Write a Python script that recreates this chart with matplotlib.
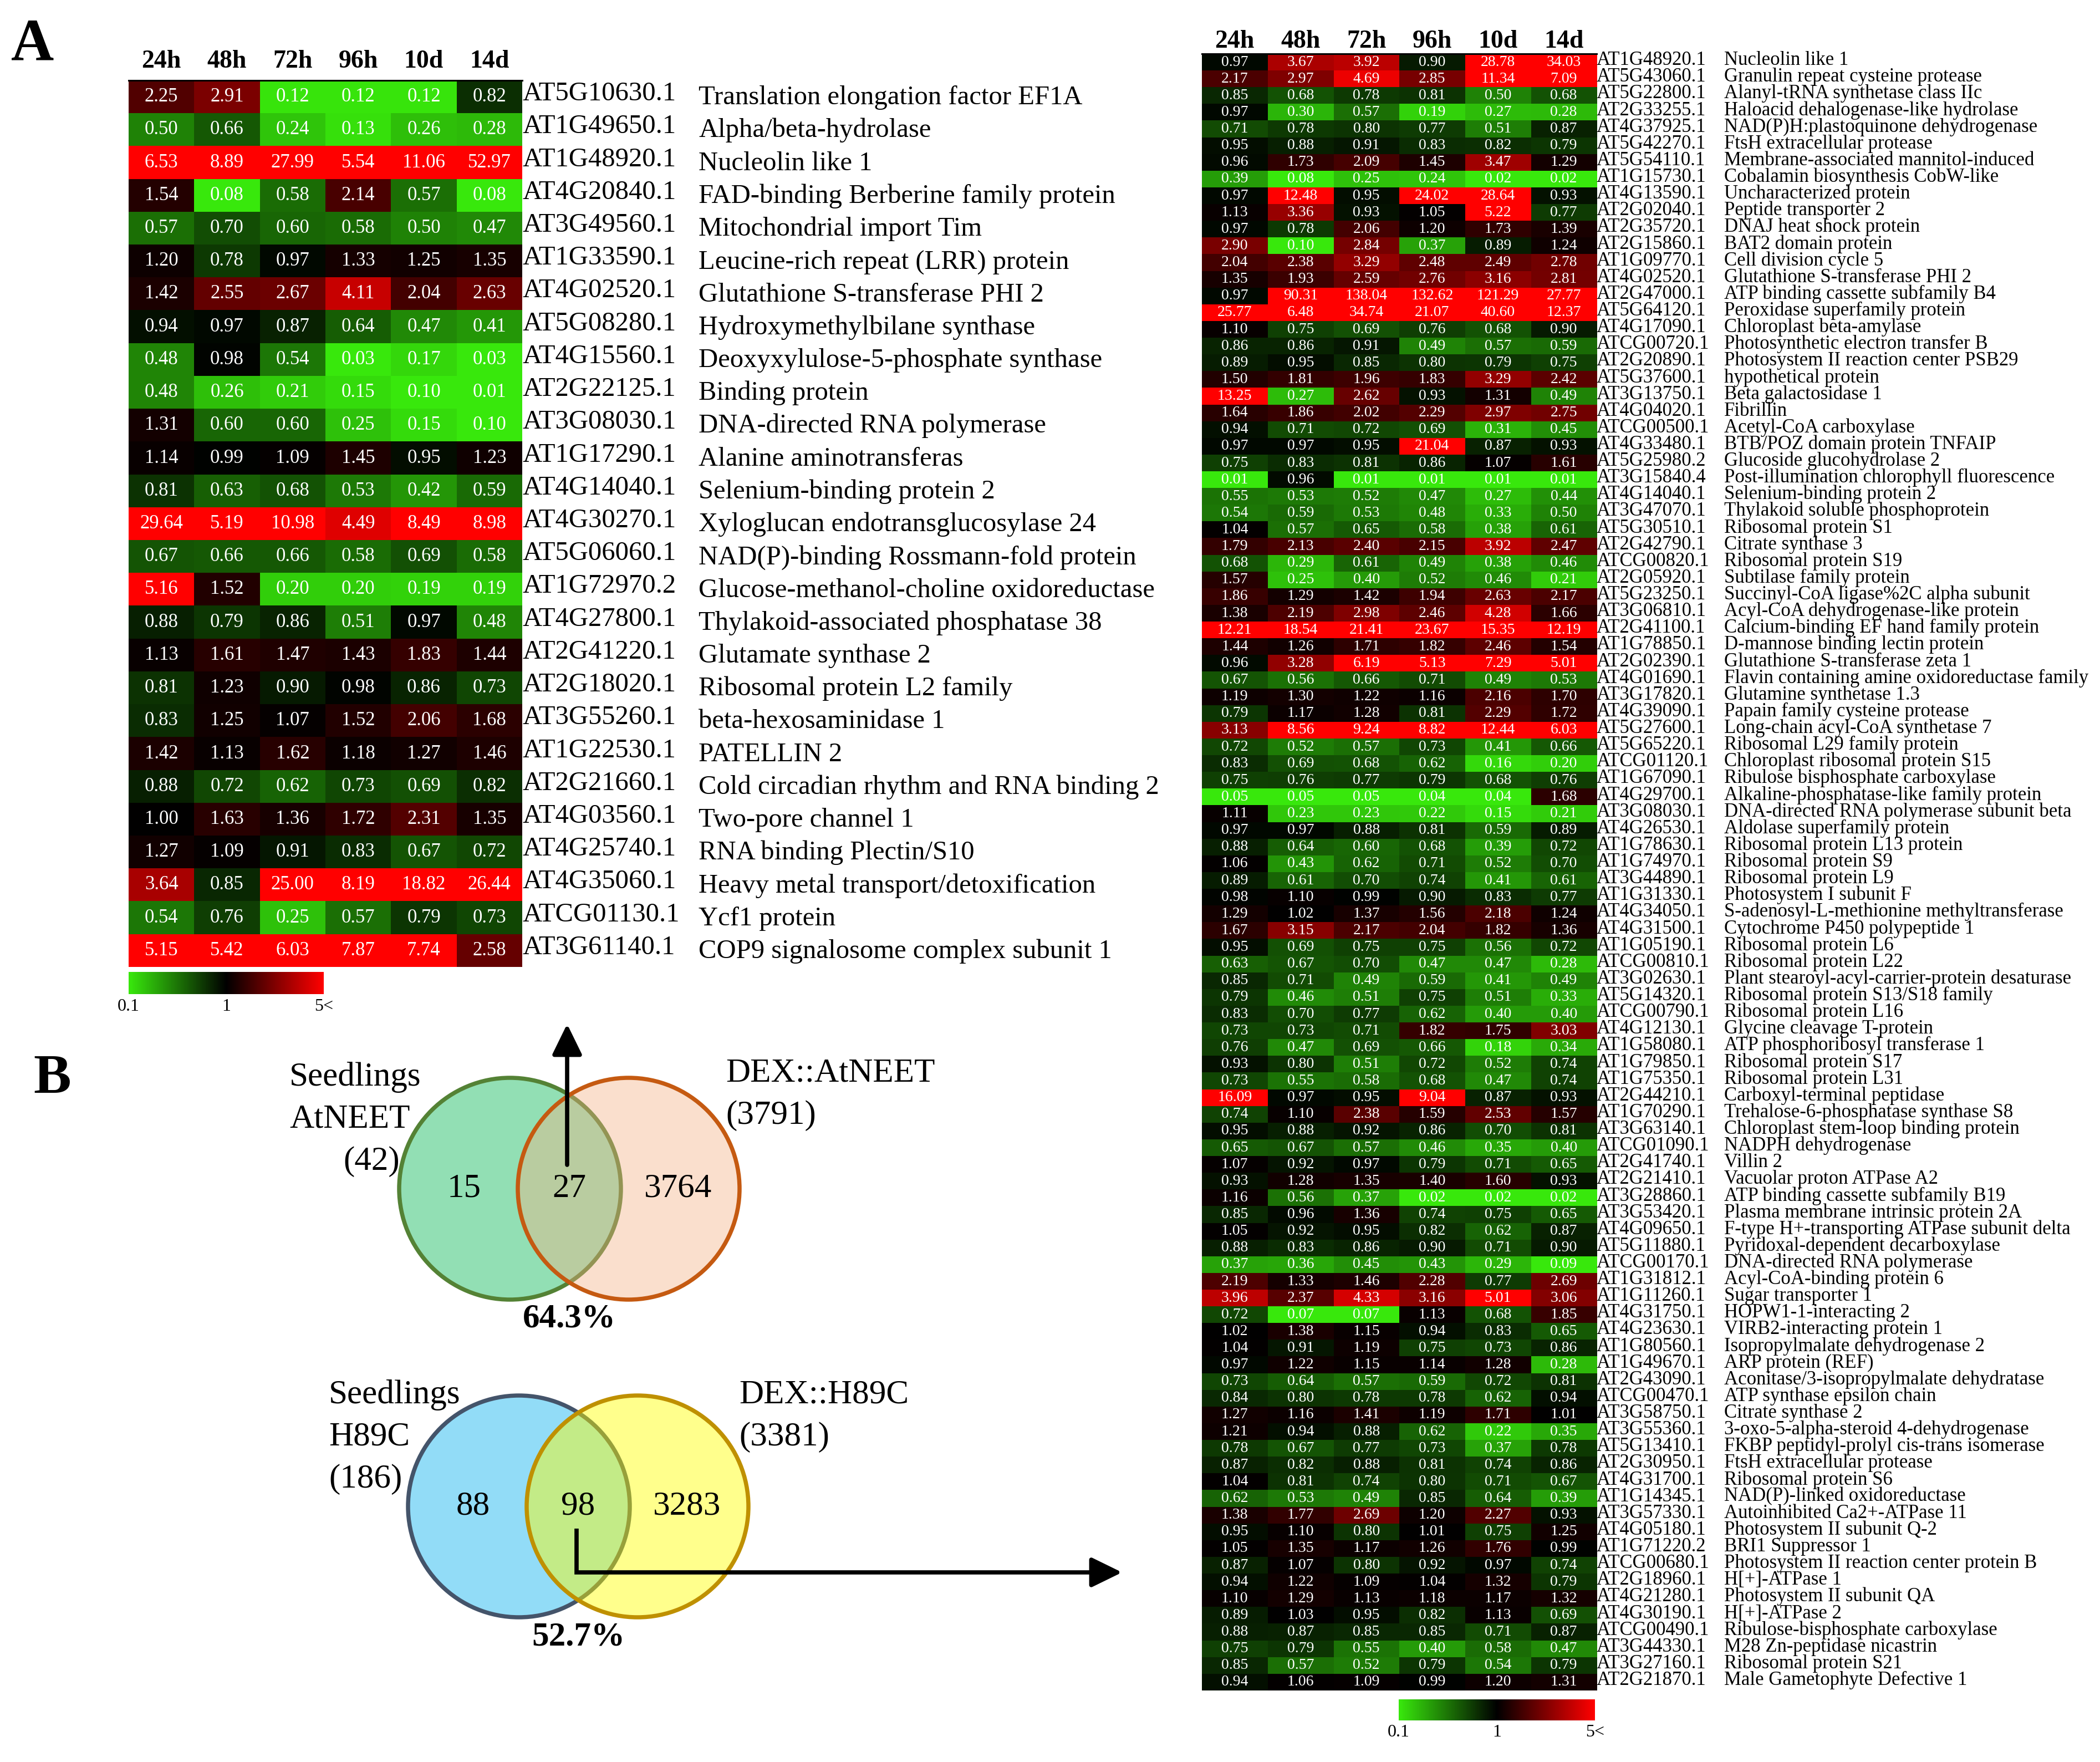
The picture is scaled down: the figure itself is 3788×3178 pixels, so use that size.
"""
Heatmaps of overlapping transcripts (A) and Venn overlaps (B).
"""

import numpy as np
import matplotlib
matplotlib.use("Agg")
import matplotlib.pyplot as plt
from matplotlib.colors import LinearSegmentedColormap, TwoSlopeNorm
from matplotlib.cm import ScalarMappable
from matplotlib.patches import Circle
from matplotlib.transforms import blended_transform_factory

plt.rcParams.update({
    "font.family": "serif",
    "font.serif": ["Liberation Serif", "DejaVu Serif"],
})

# ── Data ─────────────────────────────────────────────────────────────────────
COLUMNS = ["24h", "48h", "72h", "96h", "10d", "14d"]

LEFT_IDS = [
    "AT5G10630.1", "AT1G49650.1", "AT1G48920.1", "AT4G20840.1", "AT3G49560.1",
    "AT1G33590.1", "AT4G02520.1", "AT5G08280.1", "AT4G15560.1", "AT2G22125.1",
    "AT3G08030.1", "AT1G17290.1", "AT4G14040.1", "AT4G30270.1", "AT5G06060.1",
    "AT1G72970.2", "AT4G27800.1", "AT2G41220.1", "AT2G18020.1", "AT3G55260.1",
    "AT1G22530.1", "AT2G21660.1", "AT4G03560.1", "AT4G25740.1", "AT4G35060.1",
    "ATCG01130.1", "AT3G61140.1",
]
LEFT_DESC = [
    "Translation elongation factor EF1A", "Alpha/beta-hydrolase", "Nucleolin like 1",
    "FAD-binding Berberine family protein", "Mitochondrial import Tim",
    "Leucine-rich repeat (LRR) protein", "Glutathione S-transferase PHI 2",
    "Hydroxymethylbilane synthase", "Deoxyxylulose-5-phosphate synthase",
    "Binding protein", "DNA-directed RNA polymerase", "Alanine aminotransferas",
    "Selenium-binding protein 2", "Xyloglucan endotransglucosylase 24",
    "NAD(P)-binding Rossmann-fold protein", "Glucose-methanol-choline oxidoreductase",
    "Thylakoid-associated phosphatase 38", "Glutamate synthase 2",
    "Ribosomal protein L2 family", "beta-hexosaminidase 1", "PATELLIN 2",
    "Cold circadian rhythm and RNA binding 2", "Two-pore channel 1",
    "RNA binding Plectin/S10", "Heavy metal transport/detoxification",
    "Ycf1 protein", "COP9 signalosome complex subunit 1",
]
LEFT_VALUES = [
    [2.25, 2.91, 0.12, 0.12, 0.12, 0.82],
    [0.50, 0.66, 0.24, 0.13, 0.26, 0.28],
    [6.53, 8.89, 27.99, 5.54, 11.06, 52.97],
    [1.54, 0.08, 0.58, 2.14, 0.57, 0.08],
    [0.57, 0.70, 0.60, 0.58, 0.50, 0.47],
    [1.20, 0.78, 0.97, 1.33, 1.25, 1.35],
    [1.42, 2.55, 2.67, 4.11, 2.04, 2.63],
    [0.94, 0.97, 0.87, 0.64, 0.47, 0.41],
    [0.48, 0.98, 0.54, 0.03, 0.17, 0.03],
    [0.48, 0.26, 0.21, 0.15, 0.10, 0.01],
    [1.31, 0.60, 0.60, 0.25, 0.15, 0.10],
    [1.14, 0.99, 1.09, 1.45, 0.95, 1.23],
    [0.81, 0.63, 0.68, 0.53, 0.42, 0.59],
    [29.64, 5.19, 10.98, 4.49, 8.49, 8.98],
    [0.67, 0.66, 0.66, 0.58, 0.69, 0.58],
    [5.16, 1.52, 0.20, 0.20, 0.19, 0.19],
    [0.88, 0.79, 0.86, 0.51, 0.97, 0.48],
    [1.13, 1.61, 1.47, 1.43, 1.83, 1.44],
    [0.81, 1.23, 0.90, 0.98, 0.86, 0.73],
    [0.83, 1.25, 1.07, 1.52, 2.06, 1.68],
    [1.42, 1.13, 1.62, 1.18, 1.27, 1.46],
    [0.88, 0.72, 0.62, 0.73, 0.69, 0.82],
    [1.00, 1.63, 1.36, 1.72, 2.31, 1.35],
    [1.27, 1.09, 0.91, 0.83, 0.67, 0.72],
    [3.64, 0.85, 25.00, 8.19, 18.82, 26.44],
    [0.54, 0.76, 0.25, 0.57, 0.79, 0.73],
    [5.15, 5.42, 6.03, 7.87, 7.74, 2.58],
]

RIGHT_IDS = [
    "AT1G48920.1", "AT5G43060.1", "AT5G22800.1", "AT2G33255.1", "AT4G37925.1",
    "AT5G42270.1", "AT5G54110.1", "AT1G15730.1", "AT4G13590.1", "AT2G02040.1",
    "AT2G35720.1", "AT2G15860.1", "AT1G09770.1", "AT4G02520.1", "AT2G47000.1",
    "AT5G64120.1", "AT4G17090.1", "ATCG00720.1", "AT2G20890.1", "AT5G37600.1",
    "AT3G13750.1", "AT4G04020.1", "ATCG00500.1", "AT4G33480.1", "AT5G25980.2",
    "AT3G15840.4", "AT4G14040.1", "AT3G47070.1", "AT5G30510.1", "AT2G42790.1",
    "ATCG00820.1", "AT2G05920.1", "AT5G23250.1", "AT3G06810.1", "AT2G41100.1",
    "AT1G78850.1", "AT2G02390.1", "AT4G01690.1", "AT3G17820.1", "AT4G39090.1",
    "AT5G27600.1", "AT5G65220.1", "ATCG01120.1", "AT1G67090.1", "AT4G29700.1",
    "AT3G08030.1", "AT4G26530.1", "AT1G78630.1", "AT1G74970.1", "AT3G44890.1",
    "AT1G31330.1", "AT4G34050.1", "AT4G31500.1", "AT1G05190.1", "ATCG00810.1",
    "AT3G02630.1", "AT5G14320.1", "ATCG00790.1", "AT4G12130.1", "AT1G58080.1",
    "AT1G79850.1", "AT1G75350.1", "AT2G44210.1", "AT1G70290.1", "AT3G63140.1",
    "ATCG01090.1", "AT2G41740.1", "AT2G21410.1", "AT3G28860.1", "AT3G53420.1",
    "AT4G09650.1", "AT5G11880.1", "ATCG00170.1", "AT1G31812.1", "AT1G11260.1",
    "AT4G31750.1", "AT4G23630.1", "AT1G80560.1", "AT1G49670.1", "AT2G43090.1",
    "ATCG00470.1", "AT3G58750.1", "AT3G55360.1", "AT5G13410.1", "AT2G30950.1",
    "AT4G31700.1", "AT1G14345.1", "AT3G57330.1", "AT4G05180.1", "AT1G71220.2",
    "ATCG00680.1", "AT2G18960.1", "AT4G21280.1", "AT4G30190.1", "ATCG00490.1",
    "AT3G44330.1", "AT3G27160.1", "AT2G21870.1",
]
RIGHT_DESC = [
    "Nucleolin like 1", "Granulin repeat cysteine protease",
    "Alanyl-tRNA synthetase class IIc", "Haloacid dehalogenase-like hydrolase",
    "NAD(P)H:plastoquinone dehydrogenase", "FtsH extracellular protease",
    "Membrane-associated mannitol-induced", "Cobalamin biosynthesis CobW-like",
    "Uncharacterized protein", "Peptide transporter 2", "DNAJ heat shock protein",
    "BAT2 domain protein", "Cell division cycle 5", "Glutathione S-transferase PHI 2",
    "ATP binding cassette subfamily B4", "Peroxidase superfamily protein",
    "Chloroplast beta-amylase", "Photosynthetic electron transfer B",
    "Photosystem II reaction center PSB29", "hypothetical protein",
    "Beta galactosidase 1", "Fibrillin", "Acetyl-CoA carboxylase",
    "BTB/POZ domain protein TNFAIP", "Glucoside glucohydrolase 2",
    "Post-illumination chlorophyll fluorescence", "Selenium-binding protein 2",
    "Thylakoid soluble phosphoprotein", "Ribosomal protein S1", "Citrate synthase 3",
    "Ribosomal protein S19", "Subtilase family protein",
    "Succinyl-CoA ligase%2C alpha subunit", "Acyl-CoA dehydrogenase-like protein",
    "Calcium-binding EF hand family protein", "D-mannose binding lectin protein",
    "Glutathione S-transferase zeta 1", "Flavin containing amine oxidoreductase family",
    "Glutamine synthetase 1.3", "Papain family cysteine protease",
    "Long-chain acyl-CoA synthetase 7", "Ribosomal L29 family protein",
    "Chloroplast ribosomal protein S15", "Ribulose bisphosphate carboxylase",
    "Alkaline-phosphatase-like family protein", "DNA-directed RNA polymerase subunit beta",
    "Aldolase superfamily protein", "Ribosomal protein L13 protein",
    "Ribosomal protein S9", "Ribosomal protein L9", "Photosystem I subunit F",
    "S-adenosyl-L-methionine methyltransferase", "Cytochrome P450 polypeptide 1",
    "Ribosomal protein L6", "Ribosomal protein L22",
    "Plant stearoyl-acyl-carrier-protein desaturase", "Ribosomal protein S13/S18 family",
    "Ribosomal protein L16", "Glycine cleavage T-protein",
    "ATP phosphoribosyl transferase 1", "Ribosomal protein S17", "Ribosomal protein L31",
    "Carboxyl-terminal peptidase", "Trehalose-6-phosphatase synthase S8",
    "Chloroplast stem-loop binding protein", "NADPH dehydrogenase", "Villin 2",
    "Vacuolar proton ATPase A2", "ATP binding cassette subfamily B19",
    "Plasma membrane intrinsic protein 2A", "F-type H+-transporting ATPase subunit delta",
    "Pyridoxal-dependent decarboxylase", "DNA-directed RNA polymerase",
    "Acyl-CoA-binding protein 6", "Sugar transporter 1", "HOPW1-1-interacting 2",
    "VIRB2-interacting protein 1", "Isopropylmalate dehydrogenase 2", "ARP protein (REF)",
    "Aconitase/3-isopropylmalate dehydratase", "ATP synthase epsilon chain",
    "Citrate synthase 2", "3-oxo-5-alpha-steroid 4-dehydrogenase",
    "FKBP peptidyl-prolyl cis-trans isomerase", "FtsH extracellular protease",
    "Ribosomal protein S6", "NAD(P)-linked oxidoreductase", "Autoinhibited Ca2+-ATPase 11",
    "Photosystem II subunit Q-2", "BRI1 Suppressor 1",
    "Photosystem II reaction center protein B", "H[+]-ATPase 1",
    "Photosystem II subunit QA", "H[+]-ATPase 2", "Ribulose-bisphosphate carboxylase",
    "M28 Zn-peptidase nicastrin", "Ribosomal protein S21", "Male Gametophyte Defective 1",
]
RIGHT_VALUES = [
    [0.97, 3.67, 3.92, 0.90, 28.78, 34.03],
    [2.17, 2.97, 4.69, 2.85, 11.34, 7.09],
    [0.85, 0.68, 0.78, 0.81, 0.50, 0.68],
    [0.97, 0.30, 0.57, 0.19, 0.27, 0.28],
    [0.71, 0.78, 0.80, 0.77, 0.51, 0.87],
    [0.95, 0.88, 0.91, 0.83, 0.82, 0.79],
    [0.96, 1.73, 2.09, 1.45, 3.47, 1.29],
    [0.39, 0.08, 0.25, 0.24, 0.02, 0.02],
    [0.97, 12.48, 0.95, 24.02, 28.64, 0.93],
    [1.13, 3.36, 0.93, 1.05, 5.22, 0.77],
    [0.97, 0.78, 2.06, 1.20, 1.73, 1.39],
    [2.90, 0.10, 2.84, 0.37, 0.89, 1.24],
    [2.04, 2.38, 3.29, 2.48, 2.49, 2.78],
    [1.35, 1.93, 2.59, 2.76, 3.16, 2.81],
    [0.97, 90.31, 138.04, 132.62, 121.29, 27.77],
    [25.77, 6.48, 34.74, 21.07, 40.60, 12.37],
    [1.10, 0.75, 0.69, 0.76, 0.68, 0.90],
    [0.86, 0.86, 0.91, 0.49, 0.57, 0.59],
    [0.89, 0.95, 0.85, 0.80, 0.79, 0.75],
    [1.50, 1.81, 1.96, 1.83, 3.29, 2.42],
    [13.25, 0.27, 2.62, 0.93, 1.31, 0.49],
    [1.64, 1.86, 2.02, 2.29, 2.97, 2.75],
    [0.94, 0.71, 0.72, 0.69, 0.31, 0.45],
    [0.97, 0.97, 0.95, 21.04, 0.87, 0.93],
    [0.75, 0.83, 0.81, 0.86, 1.07, 1.61],
    [0.01, 0.96, 0.01, 0.01, 0.01, 0.01],
    [0.55, 0.53, 0.52, 0.47, 0.27, 0.44],
    [0.54, 0.59, 0.53, 0.48, 0.33, 0.50],
    [1.04, 0.57, 0.65, 0.58, 0.38, 0.61],
    [1.79, 2.13, 2.40, 2.15, 3.92, 2.47],
    [0.68, 0.29, 0.61, 0.49, 0.38, 0.46],
    [1.57, 0.25, 0.40, 0.52, 0.46, 0.21],
    [1.86, 1.29, 1.42, 1.94, 2.63, 2.17],
    [1.38, 2.19, 2.98, 2.46, 4.28, 1.66],
    [12.21, 18.54, 21.41, 23.67, 15.35, 12.19],
    [1.44, 1.26, 1.71, 1.82, 2.46, 1.54],
    [0.96, 3.28, 6.19, 5.13, 7.29, 5.01],
    [0.67, 0.56, 0.66, 0.71, 0.49, 0.53],
    [1.19, 1.30, 1.22, 1.16, 2.16, 1.70],
    [0.79, 1.17, 1.28, 0.81, 2.29, 1.72],
    [3.13, 8.56, 9.24, 8.82, 12.44, 6.03],
    [0.72, 0.52, 0.57, 0.73, 0.41, 0.66],
    [0.83, 0.69, 0.68, 0.62, 0.16, 0.20],
    [0.75, 0.76, 0.77, 0.79, 0.68, 0.76],
    [0.05, 0.05, 0.05, 0.04, 0.04, 1.68],
    [1.11, 0.23, 0.23, 0.22, 0.15, 0.21],
    [0.97, 0.97, 0.88, 0.81, 0.59, 0.89],
    [0.88, 0.64, 0.60, 0.68, 0.39, 0.72],
    [1.06, 0.43, 0.62, 0.71, 0.52, 0.70],
    [0.89, 0.61, 0.70, 0.74, 0.41, 0.61],
    [0.98, 1.10, 0.99, 0.90, 0.83, 0.77],
    [1.29, 1.02, 1.37, 1.56, 2.18, 1.24],
    [1.67, 3.15, 2.17, 2.04, 1.82, 1.36],
    [0.95, 0.69, 0.75, 0.75, 0.56, 0.72],
    [0.63, 0.67, 0.70, 0.47, 0.47, 0.28],
    [0.85, 0.71, 0.49, 0.59, 0.41, 0.49],
    [0.79, 0.46, 0.51, 0.75, 0.51, 0.33],
    [0.83, 0.70, 0.77, 0.62, 0.40, 0.40],
    [0.73, 0.73, 0.71, 1.82, 1.75, 3.03],
    [0.76, 0.47, 0.69, 0.66, 0.18, 0.34],
    [0.93, 0.80, 0.51, 0.72, 0.52, 0.74],
    [0.73, 0.55, 0.58, 0.68, 0.47, 0.74],
    [16.09, 0.97, 0.95, 9.04, 0.87, 0.93],
    [0.74, 1.10, 2.38, 1.59, 2.53, 1.57],
    [0.95, 0.88, 0.92, 0.86, 0.70, 0.81],
    [0.65, 0.67, 0.57, 0.46, 0.35, 0.40],
    [1.07, 0.92, 0.97, 0.79, 0.71, 0.65],
    [0.93, 1.28, 1.35, 1.40, 1.60, 0.93],
    [1.16, 0.56, 0.37, 0.02, 0.02, 0.02],
    [0.85, 0.96, 1.36, 0.74, 0.75, 0.65],
    [1.05, 0.92, 0.95, 0.82, 0.62, 0.87],
    [0.88, 0.83, 0.86, 0.90, 0.71, 0.90],
    [0.37, 0.36, 0.45, 0.43, 0.29, 0.09],
    [2.19, 1.33, 1.46, 2.28, 0.77, 2.69],
    [3.96, 2.37, 4.33, 3.16, 5.01, 3.06],
    [0.72, 0.07, 0.07, 1.13, 0.68, 1.85],
    [1.02, 1.38, 1.15, 0.94, 0.83, 0.65],
    [1.04, 0.91, 1.19, 0.75, 0.73, 0.86],
    [0.97, 1.22, 1.15, 1.14, 1.28, 0.28],
    [0.73, 0.64, 0.57, 0.59, 0.72, 0.81],
    [0.84, 0.80, 0.78, 0.78, 0.62, 0.94],
    [1.27, 1.16, 1.41, 1.19, 1.71, 1.01],
    [1.21, 0.94, 0.88, 0.62, 0.22, 0.35],
    [0.78, 0.67, 0.77, 0.73, 0.37, 0.78],
    [0.87, 0.82, 0.88, 0.81, 0.74, 0.86],
    [1.04, 0.81, 0.74, 0.80, 0.71, 0.67],
    [0.62, 0.53, 0.49, 0.85, 0.64, 0.39],
    [1.38, 1.77, 2.69, 1.20, 2.27, 0.93],
    [0.95, 1.10, 0.80, 1.01, 0.75, 1.25],
    [1.05, 1.35, 1.17, 1.26, 1.76, 0.99],
    [0.87, 1.07, 0.80, 0.92, 0.97, 0.74],
    [0.94, 1.22, 1.09, 1.04, 1.32, 0.79],
    [1.10, 1.29, 1.13, 1.18, 1.17, 1.32],
    [0.89, 1.03, 0.95, 0.82, 1.13, 0.69],
    [0.88, 0.87, 0.85, 0.85, 0.71, 0.87],
    [0.75, 0.79, 0.55, 0.40, 0.58, 0.47],
    [0.85, 0.57, 0.52, 0.79, 0.54, 0.79],
    [0.94, 1.06, 1.09, 0.99, 1.20, 1.31],
]

# Venn counts: [only seedlings, shared, only DEX line]
VENN_ATNEET = [15, 27, 3764]
VENN_H89C = [88, 98, 3283]

CBAR_TICKS = [0.1, 1, 5]
CBAR_LABELS = ["0.1", "1", "5<"]

# ── Figure geometry (pixels of the 3788 x 3178 canvas) ───────────────────────
W, H = 3788, 3178
fig = plt.figure(figsize=(W / 100, H / 100), dpi=100)


def px_box(x0, y0, x1, y1):
    return [x0 / W, 1 - y1 / H, (x1 - x0) / W, (y1 - y0) / H]


cmap = LinearSegmentedColormap.from_list("gkr", ["#38e80c", "#000000", "#ff0000"])
norm = TwoSlopeNorm(vmin=0.1, vcenter=1.0, vmax=5.0)


def draw_heatmap(box, values, ids, descs, val_fs, lab_fs, hdr_fs,
                 hdr_gap, desc_x, id_dy, desc_dy):
    ax = fig.add_axes(px_box(*box))
    data = np.array(values)
    ax.imshow(data, cmap=cmap, norm=norm, aspect="auto", interpolation="nearest")
    ax.set_xticks([])
    ax.set_yticks([])
    for side in ("left", "right", "bottom"):
        ax.spines[side].set_visible(False)
    ax.spines["top"].set_linewidth(2.2)

    for i, row in enumerate(data):
        for j, v in enumerate(row):
            ax.text(j, i, f"{v:.2f}", ha="center", va="center",
                    color="white", fontsize=val_fs)

    tr = blended_transform_factory(ax.transAxes, ax.transData)
    for i, (gid, desc) in enumerate(zip(ids, descs)):
        ax.text(1.0, i + id_dy, gid, transform=tr, ha="left", va="baseline",
                fontsize=lab_fs, clip_on=False)
        ax.text(desc_x, i + desc_dy, desc, transform=tr, ha="left",
                va="baseline", fontsize=lab_fs, clip_on=False)

    trh = blended_transform_factory(ax.transData, ax.transAxes)
    for j, col in enumerate(COLUMNS):
        ax.text(j, 1 + hdr_gap, col, transform=trh, ha="center", va="baseline",
                fontsize=hdr_fs, fontweight="bold", clip_on=False)
    return ax


def draw_colorbar(box, pad):
    cax = fig.add_axes(px_box(*box))
    cb = fig.colorbar(ScalarMappable(norm=norm, cmap=cmap), cax=cax,
                      orientation="horizontal", ticks=CBAR_TICKS)
    cb.set_ticklabels(CBAR_LABELS)
    cb.outline.set_visible(False)
    cax.tick_params(length=0, labelsize=23, pad=pad)
    cax.xaxis.set_minor_locator(matplotlib.ticker.NullLocator())
    return cb


# ── Panel A ──────────────────────────────────────────────────────────────────
draw_heatmap((232, 145, 942, 1744), LEFT_VALUES, LEFT_IDS, LEFT_DESC,
             val_fs=25, lab_fs=35, hdr_fs=33, hdr_gap=23 / 1599,
             desc_x=(1260 - 232) / 710, id_dy=0.11, desc_dy=0.23)
draw_colorbar((232, 1753, 584, 1793), pad=6)

draw_heatmap((2168, 97, 2880, 3049), RIGHT_VALUES, RIGHT_IDS, RIGHT_DESC,
             val_fs=20, lab_fs=25, hdr_fs=33, hdr_gap=11 / 2952,
             desc_x=(3110 - 2168) / 712, id_dy=0.17, desc_dy=0.17)
draw_colorbar((2523, 3065, 2877, 3103), pad=5)

# ── Panel B: Venn diagrams ───────────────────────────────────────────────────
bg = fig.add_axes([0, 0, 1, 1], zorder=-1)
bg.set_xlim(0, W)
bg.set_ylim(H, 0)
bg.axis("off")

bg.text(20, 108, "A", fontsize=77, fontweight="bold", va="baseline", ha="left")
bg.text(60, 1972, "B", fontsize=73, fontweight="bold", va="baseline", ha="left")

VFS = 44
LW = 5.4


def venn(cy, x_left, x_right, r, counts, left_fc, left_ec, right_fc, right_ec,
         left_name, right_name, left_lab_xy, right_lab_xy, line_gap, pct_y,
         left_total_center=None):
    bg.add_patch(Circle((x_left, cy), r, facecolor=left_fc, edgecolor=left_ec, lw=LW))
    bg.add_patch(Circle((x_right, cy), r, facecolor=right_fc, edgecolor=right_ec, lw=LW))
    only_l, shared, only_r = counts
    xs = [(x_left - r + x_right - r) / 2 + 10, (x_left + x_right) / 2,
          (x_left + r + x_right + r) / 2 - 4]
    for x, c in zip(xs, counts):
        bg.text(x, cy, str(c), fontsize=VFS, ha="center", va="center")

    lx, ly = left_lab_xy
    lines = ["Seedlings", left_name]
    for k, t in enumerate(lines):
        bg.text(lx, ly + k * line_gap, t, fontsize=VFS, ha="left", va="center")
    tot = f"({only_l + shared})"
    if left_total_center is not None:
        bg.text(left_total_center, ly + 2 * line_gap, tot, fontsize=VFS,
                ha="center", va="center")
    else:
        bg.text(lx, ly + 2 * line_gap, tot, fontsize=VFS, ha="left", va="center")

    rx, ry = right_lab_xy
    bg.text(rx, ry, f"DEX::{right_name}", fontsize=VFS, ha="left", va="center")
    bg.text(rx, ry + line_gap, f"({shared + only_r})", fontsize=VFS,
            ha="left", va="center")

    pct = 100 * shared / (only_l + shared)
    bg.text((x_left + x_right) / 2, pct_y, f"{pct:.1f}%", fontsize=VFS,
            fontweight="bold", ha="center", va="center")


venn(2144, 920, 1134, 200, VENN_ATNEET,
     "#92dfb4", "#548235", (244 / 255, 177 / 255, 131 / 255, 0.4), "#c55a11",
     "AtNEET", "AtNEET", (522, 1943), (1309, 1936), 76, 2379,
     left_total_center=670)
venn(2717, 936, 1150, 200, VENN_H89C,
     "#92dcf7", "#44546a", (1, 1, 0, 0.45), "#bf9000",
     "H89C", "H89C", (593, 2516), (1333, 2516), 76, 2952)

# arrows leading from the shared sets to the heatmaps
arrow_kw = dict(arrowstyle="-|>,head_length=0.45,head_width=0.22",
                lw=5.5, color="black", shrinkA=0, shrinkB=0,
                mutation_scale=75)
bg.annotate("", xy=(1023, 1847), xytext=(1023, 2101), arrowprops=arrow_kw)
bg.plot([1040, 1040, 2000], [2757, 2836, 2836], color="black", lw=5.5,
        solid_joinstyle="miter", solid_capstyle="butt")
bg.annotate("", xy=(2024, 2836), xytext=(1990, 2836), arrowprops=arrow_kw)

fig.savefig("out.png", dpi=100)
